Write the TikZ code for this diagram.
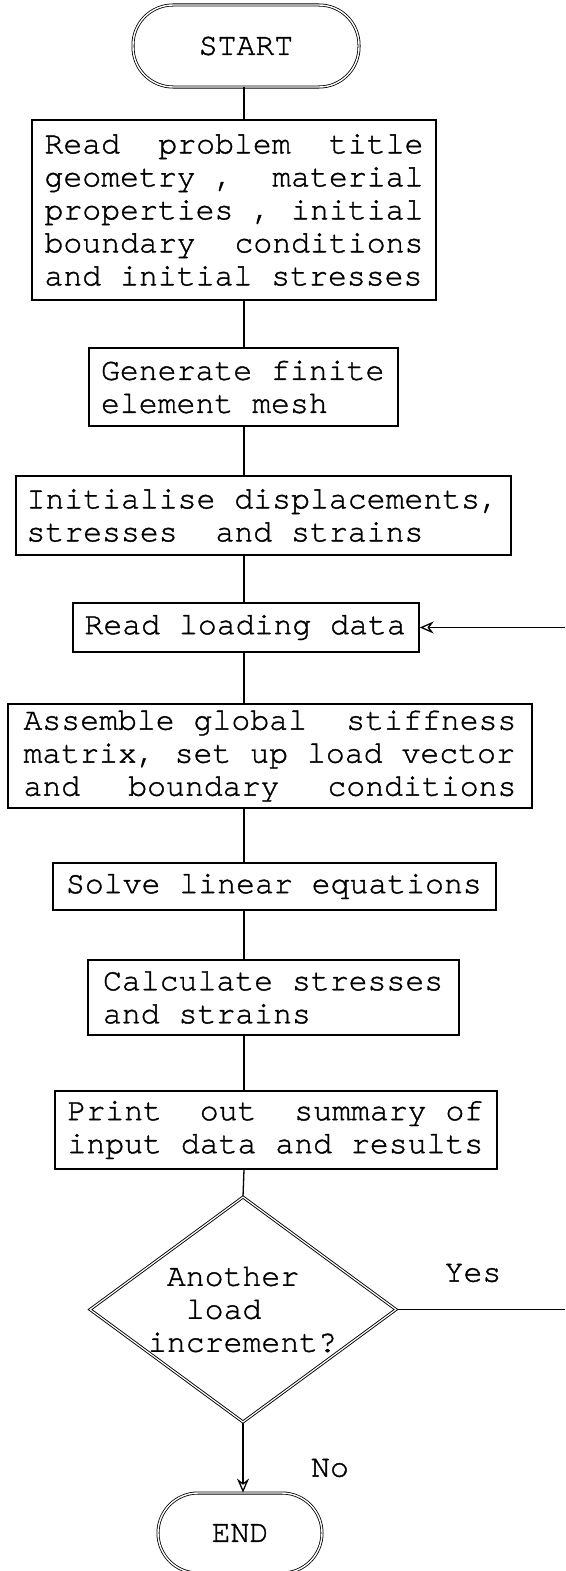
\documentclass[tikz,border=0pt]{standalone}
\usepackage{fontspec}
\setmonofont[Ligatures={NoCommon}, FakeBold=1.2]{TeX Gyre Cursor}
\usetikzlibrary{shapes.geometric,arrows.meta}

\begin{document}
\begin{tikzpicture}[x=1pt,y=-1pt,
  font=\ttfamily\fontsize{31.5}{33}\selectfont,
  every node/.append style={execute at begin node={\spaceskip=18.9pt\relax\xspaceskip=18.9pt\relax}},
  box/.style={draw, line width=1.4pt, inner sep=0pt, align=left},
  term/.style={draw, double, double distance=1.4pt, line width=0.8pt, rounded corners=40pt},
  link/.style={line width=1.3pt},
  arrow/.style={line width=1.3pt, -{Stealth[open, length=14pt, width=12pt]}}]
\useasboundingbox (0,0) rectangle (565,1571);
\coordinate (spine) at (244,0);
\coordinate (rim) at (565,0);

\node[term, minimum width=226pt, minimum height=82pt] (start) at (246,46) {START};

\node[box, text width=379pt, minimum width=404pt, minimum height=180pt] (b1) at (234,210)
  {Read\hfill problem\hfill title\\
   geometry ,\hfill material\\
   properties ,\hfill initial\\
   boundary\hfill conditions\\
   and initial stresses};

\node[box, text width=285pt, minimum width=309pt, minimum height=78pt] (b2) at (243.5,387)
  {Generate finite\\element mesh};

\node[box, text width=474pt, minimum width=495pt, minimum height=79pt] (b3) at (263.5,515.5)
  {Initialise displacements,\\stresses\ \ and strains};

\node[box, text width=323pt, minimum width=346pt, minimum height=49pt] (b4) at (246,627.5)
  {Read loading data};

\node[box, text width=493pt, minimum width=524pt, minimum height=104pt] (b5) at (270,756)
  {Assemble global\hfill stiffness\\
   matrix, set up load vector\\
   and\hfill boundary\hfill conditions};

\node[box, text width=417pt, minimum width=443pt, minimum height=47pt] (b6) at (274.5,886.5)
  {Solve linear equations};

\node[box, text width=341pt, minimum width=371pt, minimum height=75pt] (b7) at (273.5,997.5)
  {Calculate stresses\\and strains};

\node[box, text width=417pt, minimum width=442pt, minimum height=78pt] (b8) at (276,1130)
  {Print\ \ out\ \ summary of\\input data and results};

\node[draw, double, double distance=1.2pt, line width=0.9pt, diamond, aspect=1.36,
      inner sep=0pt, align=left, text width=190pt,
      minimum width=306pt, minimum height=225pt] (dec) at (243,1309.5)
  {\ Another\\\ \ load\\increment?};

\node[term, minimum width=164pt, minimum height=80pt] (end) at (240,1533) {END};

\node (yes) at (473,1273) {Yes};
\node (no) at (330,1468) {No};

\draw[link] (start.south -| spine) -- (b1.north -| spine);
\draw[link] (b1.south -| spine) -- (b2.north -| spine);
\draw[link] (b2.south -| spine) -- (b3.north -| spine);
\draw[link] (b3.south -| spine) -- (b4.north -| spine);
\draw[link] (b4.south -| spine) -- (b5.north -| spine);
\draw[link] (b5.south -| spine) -- (b6.north -| spine);
\draw[link] (b6.south -| spine) -- (b7.north -| spine);
\draw[link] (b7.south -| spine) -- (b8.north -| spine);
\draw[link] (b8.south -| spine) -- (dec.north);
\draw[arrow] (dec.south) -- (end.north -| dec.south);

\draw[link] (dec.east) -- (dec.east -| rim);
\draw[arrow] (b4.east -| rim) -- (b4.east);
\end{tikzpicture}
\end{document}
